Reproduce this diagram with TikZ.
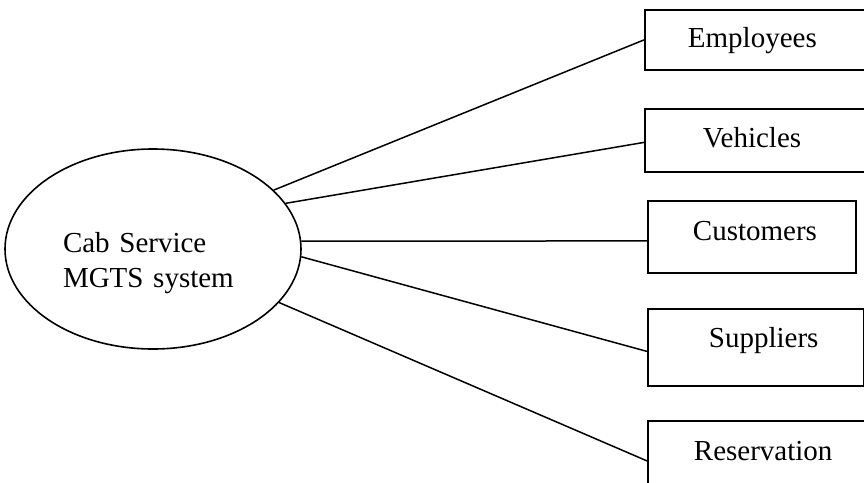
\documentclass[tikz,border=0pt]{standalone}
\usepackage{fontspec}
\setmainfont{Liberation Serif}
\usetikzlibrary{shapes.geometric}
\begin{document}
\begin{tikzpicture}[x=1pt, y=-1pt,
  every node/.style={font=\fontsize{29}{35}\selectfont},
  system/.style={ellipse, draw=black, line width=1.6pt, inner sep=0pt, align=left},
  entity/.style={rectangle, draw=black, line width=1.8pt, inner ysep=0pt, anchor=north west, align=left},
  link/.style={draw=black, line width=1.5pt}]
\useasboundingbox (0,0) rectangle (864,482);
\clip (0,0) rectangle (864,482);
\node [system, minimum width=296pt, minimum height=200pt, text width=180pt,
       text height=45pt, text depth=39pt] (cab) at (153,249) {Cab Service\\MGTS system};
\node [entity, inner xsep=43pt, text width=136pt, text height=38pt, text depth=22pt] (emp) at (644,9) {Employees};
\node [entity, inner xsep=58pt, text width=106pt, text height=39pt, text depth=24pt] (veh) at (644,108) {Vehicles};
\node [entity, inner xsep=45pt, text width=118pt, text height=40pt, text depth=32pt] (cus) at (647,200) {Customers};
\node [entity, inner xsep=61pt, text width=94pt, text height=39pt, text depth=38pt] (sup) at (647,308) {Suppliers};
\node [entity, inner xsep=46pt, text width=130pt, text height=40pt, text depth=40pt] (res) at (647,420) {Reservation};
\draw [link] (cab.26) -- (emp.west);
\draw [link] (cab.19.6) -- ([yshift=-2pt]veh.west);
\draw [link] (cab.3.8) -- ([yshift=-4pt]cus.west);
\draw [link] (cab.-3) -- ([yshift=-4pt]sup.west);
\draw [link] (cab.-23.4) -- (res.west);
\end{tikzpicture}
\end{document}
